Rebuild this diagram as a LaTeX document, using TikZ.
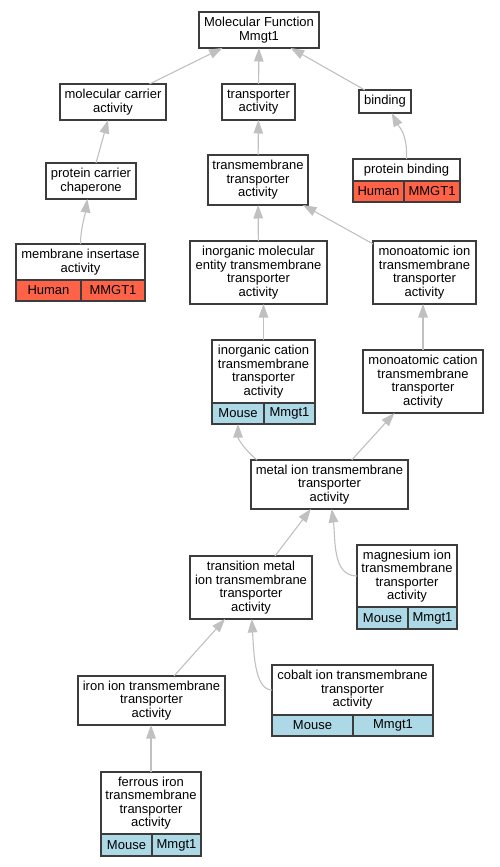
\documentclass[tikz,border=0pt]{standalone}
\usepackage{fontspec}
\setmainfont{Liberation Sans}
\usepackage{tikz}
\usetikzlibrary{arrows.meta}
\usetikzlibrary{positioning}
\definecolor{human}{HTML}{FF6347}
\definecolor{mouse}{HTML}{ADD8E6}
\definecolor{boxline}{HTML}{3C3C3C}
\definecolor{isagray}{HTML}{C0C0C0}

\begin{document}
\begin{tikzpicture}[x=1pt, y=-1pt,
        term/.style={rectangle, draw=boxline, fill=white, line width=1.3pt,
          inner sep=0pt, outer sep=0pt, align=center,
          font=\fontsize{13pt}{13.5pt}\selectfont},
        cell/.style={term, minimum height=21pt},
        isa/.style={draw=isagray, line width=1.1pt,
          -{Triangle[length=13.5pt, width=9.5pt]}},
      ]
      \useasboundingbox (0,0) rectangle (499,867);

      \node[term, minimum width=120pt, minimum height=36pt] (mf) at (259,30) {Molecular Function\\Mmgt1};
      \node[term, minimum width=106pt, minimum height=36pt] (mca) at (113,102) {molecular carrier\\activity};
      \node[term, minimum width=73pt, minimum height=36pt] (ta) at (258.5,102) {transporter\\activity};
      \node[term, minimum width=52pt, minimum height=23pt] (bind) at (385,101.5) {binding};
      \node[term, minimum width=90pt, minimum height=36pt] (pcc) at (91,181) {protein carrier\\chaperone};
      \node[term, minimum width=100pt, minimum height=50pt] (tta) at (258,180) {transmembrane\\transporter\\activity};

      \node[term, minimum width=107pt, minimum height=22pt] (pb) at (406.5,170) {protein binding};
      \node[cell, fill=human, minimum width=51pt, anchor=north west] (pb-l) at (pb.south west) {Human};
      \node[cell, fill=human, minimum width=56pt, right=0pt of pb-l] (pb-r) {MMGT1};

      \node[term, minimum width=129pt, minimum height=36pt] (mia) at (80.5,262) {membrane insertase\\activity};
      \node[cell, fill=human, minimum width=65pt, anchor=north west] (mia-l) at (mia.south west) {Human};
      \node[cell, fill=human, minimum width=64pt, right=0pt of mia-l] (mia-r) {MMGT1};

      \node[term, minimum width=137pt, minimum height=63pt] (imeta) at (258.5,272.5) {inorganic molecular\\entity transmembrane\\transporter\\activity};
      \node[term, minimum width=103pt, minimum height=63pt] (mita) at (424.5,272.5) {monoatomic ion\\transmembrane\\transporter\\activity};

      \node[term, minimum width=103pt, minimum height=63pt] (icta) at (263.5,371.5) {inorganic cation\\transmembrane\\transporter\\activity};
      \node[cell, fill=mouse, minimum width=52pt, anchor=north west] (icta-l) at (icta.south west) {Mouse};
      \node[cell, fill=mouse, minimum width=51pt, right=0pt of icta-l] (icta-r) {Mmgt1};

      \node[term, minimum width=120pt, minimum height=63pt] (mcta) at (423,381.5) {monoatomic cation\\transmembrane\\transporter\\activity};
      \node[term, minimum width=157pt, minimum height=49pt] (mta) at (329.5,484.5) {metal ion transmembrane\\transporter\\activity};
      \node[term, minimum width=122pt, minimum height=63pt] (tmta) at (251,587.5) {transition metal\\ion transmembrane\\transporter\\activity};

      \node[term, minimum width=100pt, minimum height=62pt] (mgta) at (407,576) {magnesium ion\\transmembrane\\transporter\\activity};
      \node[cell, fill=mouse, minimum width=51pt, minimum height=22pt, anchor=north west] (mgta-l) at (mgta.south west) {Mouse};
      \node[cell, fill=mouse, minimum width=49pt, minimum height=22pt, right=0pt of mgta-l] (mgta-r) {Mmgt1};

      \node[term, minimum width=147pt, minimum height=49pt] (iita) at (151.5,700.5) {iron ion transmembrane\\transporter\\activity};

      \node[term, minimum width=161pt, minimum height=50pt] (cota) at (352.5,690) {cobalt ion transmembrane\\transporter\\activity};
      \node[cell, fill=mouse, minimum width=81pt, anchor=north west] (cota-l) at (cota.south west) {Mouse};
      \node[cell, fill=mouse, minimum width=80pt, right=0pt of cota-l] (cota-r) {Mmgt1};

      \node[term, minimum width=100pt, minimum height=62pt] (fita) at (151,803) {ferrous iron\\transmembrane\\transporter\\activity};
      \node[cell, fill=mouse, minimum width=51pt, minimum height=22pt, anchor=north west] (fita-l) at (fita.south west) {Mouse};
      \node[cell, fill=mouse, minimum width=49pt, minimum height=22pt, right=0pt of fita-l] (fita-r) {Mmgt1};

      % is_a links, child to parent
      \draw[isa] (mca) -- (mf);
      \draw[isa] (ta) -- (mf);
      \draw[isa] (bind) -- (mf);
      \draw[isa] (pcc) -- (mca);
      \draw[isa] (tta) -- (ta);
      \draw[isa] (pb.north) .. controls +(1,-25) and +(8,15) .. ([xshift=6.7pt]bind.south);
      \draw[isa] (mia.north) .. controls +(0,-15) and +(-2,15) .. ([xshift=-3.7pt]pcc.south);
      \draw[isa] (imeta) -- (tta);
      \draw[isa] (mita) -- (tta);
      \draw[isa] (icta.north) -- (icta.north |- imeta.south);
      \draw[isa] (mcta.north) -- (mcta.north |- mita.south);
      \draw[isa] ([xshift=6pt]mta.north west) .. controls +(-12,-10) and +(0,15) .. (icta-l.south);
      \draw[isa] (mta) -- (mcta);
      \draw[isa] (tmta) -- (mta);
      \draw[isa] (mgta.west) .. controls +(-25,0) and +(4,30) .. ([xshift=2.2pt]mta.south);
      \draw[isa] ([xshift=22.5pt]iita.north) -- ([xshift=-26pt]tmta.south);
      \draw[isa] (cota.west) .. controls +(-18,0) and +(2,30) .. ([xshift=0.7pt]tmta.south);
      \draw[isa] (fita.north) -- (fita.north |- iita.south);
    \end{tikzpicture}
\end{document}
